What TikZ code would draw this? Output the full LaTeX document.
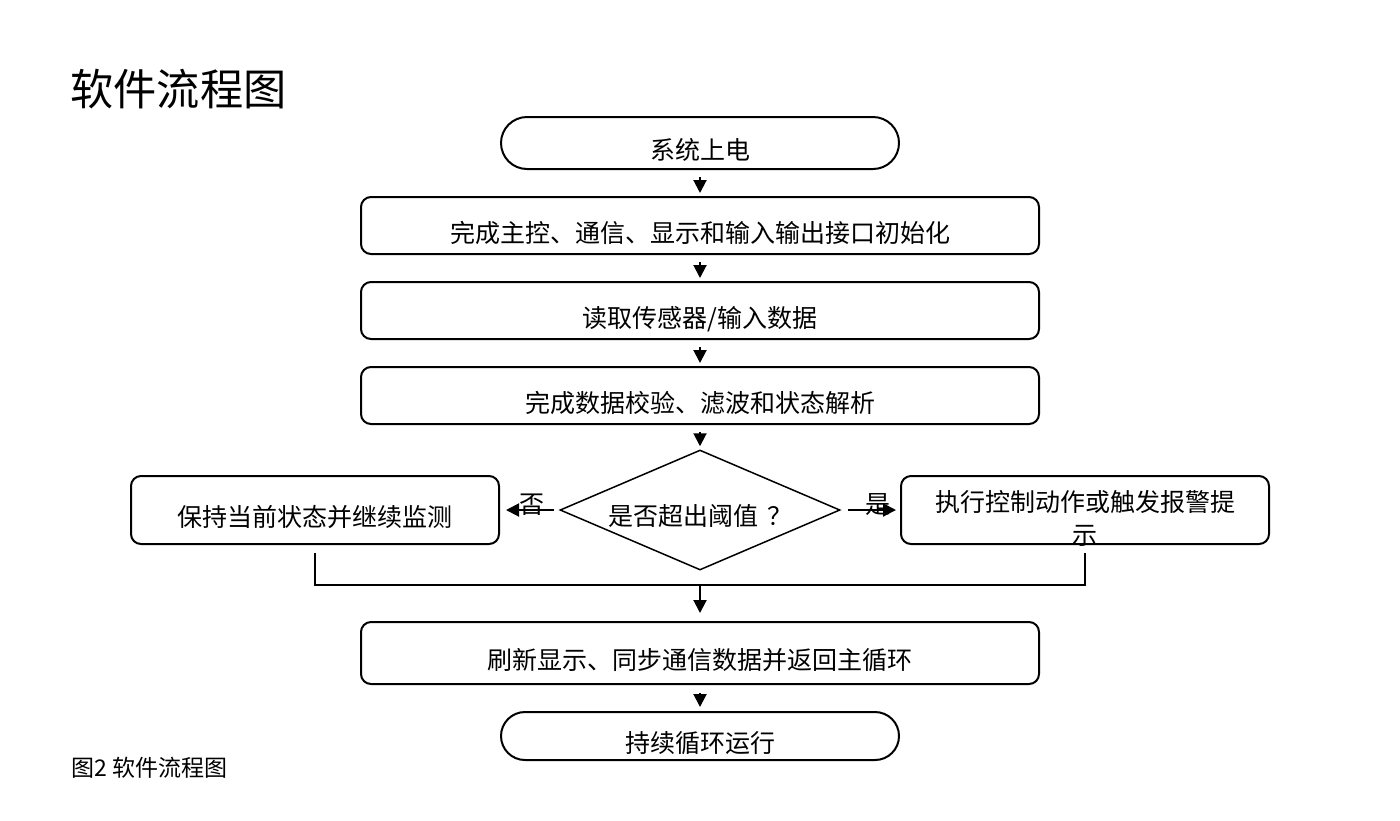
\documentclass[tikz,border=0pt]{standalone}
\usepackage{fontspec}
\setmainfont{Noto Sans CJK SC}
\usetikzlibrary{shapes.geometric,arrows.meta}
\newcommand{\lowtxt}[2][3.5pt]{\smash{\raisebox{\dimexpr-4.75pt-#1\relax}{#2}}}
\begin{document}
\begin{tikzpicture}[x=0.5pt,y=-0.5pt,
  basefont/.style={font=\fontsize{12.5pt}{16.5pt}\selectfont},
  box/.style={draw,line width=1pt,rounded corners=5pt,minimum width=339pt,minimum height=28.5pt,inner sep=0pt,basefont},
  sidebox/.style={box,minimum width=184pt,minimum height=34pt},
  term/.style={draw,line width=1pt,rounded corners=13pt,minimum width=199pt,minimum height=26pt,inner sep=0pt,basefont},
  dia/.style={draw,line width=0.75pt,diamond,shape aspect=2.33,minimum width=140pt,minimum height=60pt,inner sep=0pt,basefont},
  lbl/.style={inner sep=0pt,basefont},
  ln/.style={line width=1pt},
  arr/.style={line width=1pt,-{Triangle[length=6.5pt,width=6.5pt]}},
  varr/.style={arr,shorten <=3.5pt,shorten >=1.5pt}
]
\useasboundingbox (0,0) rectangle (1400,820);

\node[anchor=west,inner sep=0pt,font=\fontsize{21.6pt}{26pt}\selectfont] (title) at (70,89) {软件流程图};

\node[term] (s) at (700,143) {\lowtxt{系统上电}};
\node[box] (b1) at (700,225.5) {\lowtxt{完成主控、通信、显示和输入输出接口初始化}};
\node[box] (b2) at (700,310.5) {\lowtxt{读取传感器/输入数据}};
\node[box] (b3) at (700,395.5) {\lowtxt{完成数据校验、滤波和状态解析}};
\node[dia] (d) at (700,510) {\lowtxt[3pt]{是否超出阈值\hspace{4.5pt}？}};
\node[sidebox] (lb) at (315,510) {\lowtxt{保持当前状态并继续监测}};
\node[sidebox] (rb) at (1085,510) {\smash{\raisebox{-0.75pt}{\begin{tabular}[t]{@{}c@{}}执行控制动作或触发报警提\\示\end{tabular}}}};
\node[box,minimum height=31pt] (b4) at (700,653) {\lowtxt{刷新显示、同步通信数据并返回主循环}};
\node[term,minimum height=24pt,rounded corners=12pt] (e) at (700,736) {\lowtxt{持续循环运行}};

\node[anchor=west,inner sep=0pt,font=\fontsize{11.5pt}{14pt}\selectfont] (cap) at (71,768) {图2 软件流程图};

\draw[varr] (s) -- (b1);
\draw[varr] (b1) -- (b2);
\draw[varr] (b2) -- (b3);
\draw[varr] (b3) -- (d);

\draw[arr,shorten <=2.5pt,shorten >=3pt] (d.west) -- (lb.east);
\draw[arr,shorten <=3.5pt,shorten >=2pt] (d.east) -- (rb.west);
\node[lbl] (no) at (532,505) {否};
\node[lbl] (yes) at (878,505) {是};

\coordinate (m) at (700,585);
\draw[ln,shorten <=4pt] (lb.south) |- (m);
\draw[ln,shorten <=4pt] (rb.south) |- (m);
\draw[arr,shorten >=4pt] (m) -- (b4);
\draw[arr,shorten <=4pt,shorten >=2pt] (b4) -- (e);
\end{tikzpicture}
\end{document}
